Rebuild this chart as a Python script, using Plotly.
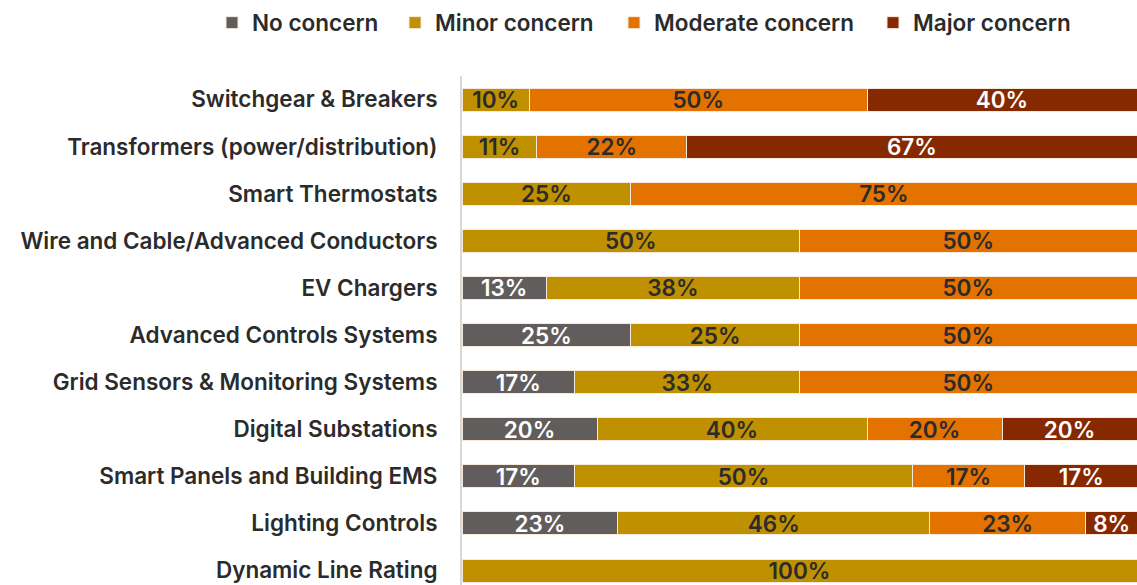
import plotly.graph_objects as go

# categories, top to bottom as in the picture
categories = [
    "Switchgear & Breakers",
    "Transformers (power/distribution)",
    "Smart Thermostats",
    "Wire and Cable/Advanced Conductors",
    "EV Chargers",
    "Advanced Controls Systems",
    "Grid Sensors & Monitoring Systems",
    "Digital Substations",
    "Smart Panels and Building EMS",
    "Lighting Controls",
    "Dynamic Line Rating",
]

# share of respondents (%), None where the segment is absent
no_concern = [None, None, None, None, 12.5, 25, 16.7, 20, 16.7, 23.1, None]
minor_concern = [10, 11.1, 25, 50, 37.5, 25, 33.3, 40, 50, 46.2, 100]
moderate_concern = [50, 22.2, 75, 50, 50, 50, 50, 20, 16.7, 23.1, None]
major_concern = [40, 66.7, None, None, None, None, None, 20, 16.7, 7.7, None]

series = [
    ("No concern", no_concern, "#625d5d", "white"),
    ("Minor concern", minor_concern, "#bf9000", "#2b2b2b"),
    ("Moderate concern", moderate_concern, "#e47200", "#2b2b2b"),
    ("Major concern", major_concern, "#862800", "white"),
]
legend_names = ["legend", "legend2", "legend3", "legend4"]
legend_left = [212, 395, 614, 873]  # px from the left of the page

font_family = "Inter"
fsize = 22.5
W, H = 1137, 585

fig = go.Figure()
for (name, vals, color, txtcolor), lg in zip(series, legend_names):
    fig.add_trace(go.Bar(
        name=name,
        y=categories[::-1],
        x=vals[::-1],
        orientation="h",
        legend=lg,
        showlegend=True,
        marker=dict(color=color, line=dict(color="#f6e9dc", width=1)),
        texttemplate="%{x:.0f}%",
        textposition="inside",
        insidetextanchor="middle",
        textangle=0,
        constraintext="none",
        insidetextfont=dict(family=font_family, size=fsize, color=txtcolor, weight=600),
        hoverinfo="skip",
    ))

# one small legend per series so the row can be spread like the original
legends = {}
for lg, left in zip(legend_names, legend_left):
    legends[lg] = dict(
        orientation="h",
        xref="container", x=left / W, xanchor="left",
        yref="container", y=1 - 23 / H, yanchor="middle",
        font=dict(size=fsize, color="#2b2b2b"),
        itemwidth=30,
        bgcolor="rgba(0,0,0,0)",
    )

fig.update_layout(
    width=W, height=H,
    showlegend=True,
    barmode="stack",
    bargap=0.51,
    plot_bgcolor="white",
    paper_bgcolor="white",
    margin=dict(l=462, r=0, t=76, b=0, autoexpand=False),
    font=dict(family=font_family, size=fsize, color="#2b2b2b", weight=600),
    xaxis=dict(range=[0, 100], showgrid=False, zeroline=False,
               showticklabels=False, fixedrange=True, automargin=False),
    yaxis=dict(range=[-0.307, 10.5], showgrid=False, zeroline=False,
               showline=True, linecolor="#d9d9d9", linewidth=2,
               ticks="", ticklabelstandoff=18, automargin=False,
               tickfont=dict(size=fsize, color="#2b2b2b")),
    **legends,
)

# page has a default 8px body margin; drop it so the figure fills the window
fig.write_html(
    "out.html",
    config={"displayModeBar": False},
    post_script="document.body.style.margin='0';document.body.style.overflow='hidden';",
)
